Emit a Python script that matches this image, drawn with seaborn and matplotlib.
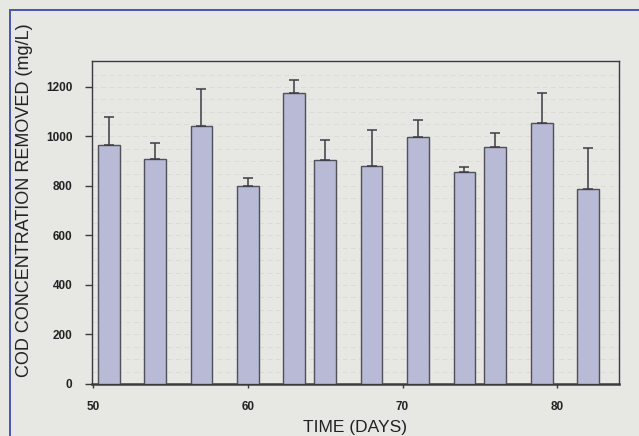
import matplotlib
matplotlib.use("Agg")
import matplotlib.pyplot as plt
import matplotlib.patches as mpatches
import seaborn as sns
import numpy as np
import pandas as pd

# Daily COD removal (mg/L) with upper standard deviation
days = [51, 54, 57, 60, 63, 65, 68, 71, 74, 76, 79, 82]
cod_removed = [965, 908, 1041, 800, 1176, 904, 880, 999, 857, 956, 1055, 788]
cod_sd = [112, 64, 150, 31, 54, 82, 148, 68, 21, 57, 120, 164]

x_ticks = [50, 60, 70, 80]
y_ticks = [0, 200, 400, 600, 800, 1000, 1200]

df = pd.DataFrame({"day": days, "cod": cod_removed, "sd": cod_sd})

sns.set_theme(style="white")
plt.rcParams["font.family"] = ["Liberation Sans", "DejaVu Sans"]

bg = "#e7e7e3"
bar_fill = "#b9bad5"
edge = "#505058"

fig = plt.figure(figsize=(6.39, 4.36), dpi=100, facecolor=bg)
ax = fig.add_axes([0.144, 0.1193, 0.8247, 0.7408])
ax.set_facecolor(bg)

# faint horizontal rules in the plotting area
for yv in np.arange(50, 1300, 50):
    ax.axhline(yv, color="#d9d9d5", lw=0.6, ls=(0, (6, 4)), zorder=0)

bar_w = 1.4
ax.bar(df["day"], df["cod"], width=bar_w, color=bar_fill,
       edgecolor=edge, linewidth=1.0, zorder=3)
ax.errorbar(df["day"], df["cod"], yerr=[np.zeros(len(df)), df["sd"]],
            fmt="none", ecolor="#3c3c44", elinewidth=1.1,
            capsize=3.8, capthick=1.1, zorder=4)

ax.set_xlim(49.92, 84.0)
ax.set_ylim(0, 1305)
ax.set_xticks(x_ticks)
ax.set_yticks(y_ticks)

for side in ["top", "right", "left"]:
    ax.spines[side].set_color("#3a3a3a")
    ax.spines[side].set_linewidth(1.0)
ax.spines["bottom"].set_color("#3a3a3a")
ax.spines["bottom"].set_linewidth(1.8)

ax.tick_params(axis="y", direction="out", length=5, width=1.0,
               color="#3a3a3a", pad=9, labelsize=8.5, left=True)
ax.tick_params(axis="x", direction="out", length=3, width=1.0,
               color="#3a3a3a", pad=9, labelsize=8.5, bottom=True)
for lab in ax.get_xticklabels() + ax.get_yticklabels():
    lab.set_fontweight("bold")
    lab.set_color("#222222")

ax.set_xlabel("")
ax.set_ylabel("")
fig.text(355 / 639, 1 - 427 / 436, "TIME (DAYS)", ha="center", va="center",
         fontsize=12.5, color="#222222")
fig.text(25 / 639, 1 - 200 / 436, "COD CONCENTRATION REMOVED (mg/L)",
         rotation=90, ha="center", va="center", fontsize=13,
         color="#222222")

# page frame lines along the top and left edges
fig.add_artist(plt.Line2D([10 / 639, 10 / 639], [0, 1 - 10 / 436],
                          transform=fig.transFigure, color="#4a56a8", lw=1.4))
fig.add_artist(plt.Line2D([10 / 639, 1], [1 - 10 / 436, 1 - 10 / 436],
                          transform=fig.transFigure, color="#4a56a8", lw=1.4))

fig.savefig("out.png", dpi=100, facecolor=bg)
